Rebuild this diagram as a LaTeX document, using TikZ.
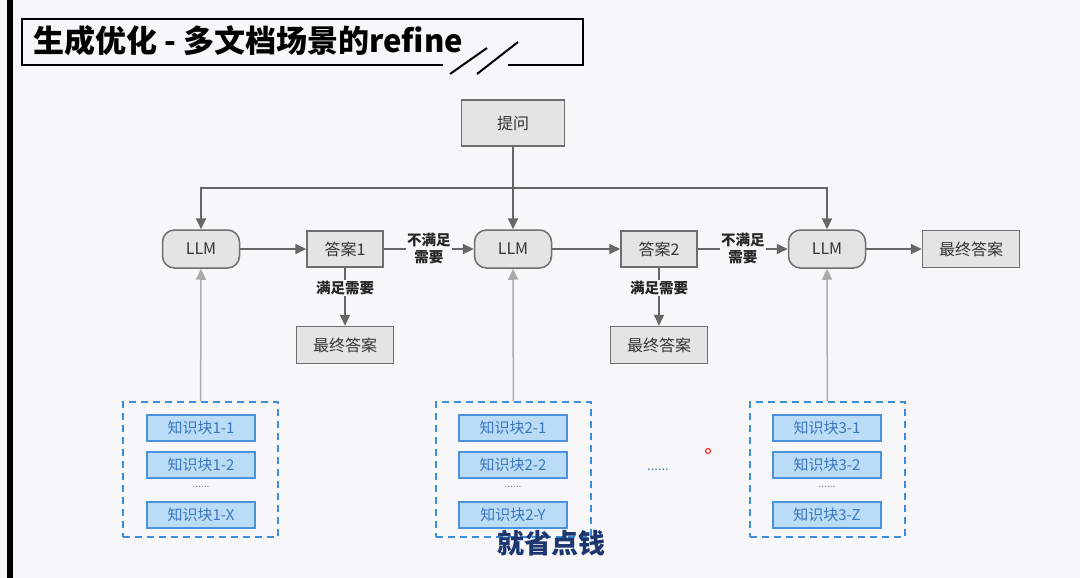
\documentclass[tikz,border=0pt]{standalone}
\usepackage{fontspec}
\setmainfont{Noto Sans CJK SC}
\usepackage{xcolor}
\usepackage{tikz}
\usetikzlibrary{calc, positioning, arrows.meta}

\definecolor{bg}{HTML}{F7F7F9}
\definecolor{boxfill}{HTML}{E4E4E4}
\definecolor{boxline}{HTML}{6E6E6E}
\definecolor{arrline}{HTML}{666666}
\definecolor{upline}{HTML}{ABABAB}
\definecolor{chunkfill}{HTML}{BBDCF6}
\definecolor{chunkline}{HTML}{4A92DC}
\definecolor{chunktext}{HTML}{3A76BC}
\definecolor{dashline}{HTML}{3C8FD8}
\definecolor{subtext}{HTML}{1D3670}

\tikzset{
    box/.style={draw=boxline, fill=boxfill, line width=1.5pt, inner sep=0pt,
        minimum width=76pt, minimum height=36pt, text=black!80,
        font=\fontsize{16}{18}\selectfont},
    llmbox/.style={box, rounded corners=12pt, minimum width=77pt, minimum height=38pt},
    finalbox/.style={box, minimum width=97pt, minimum height=37pt},
    chunk/.style={draw=chunkline, fill=chunkfill, line width=1.5pt, inner sep=0pt,
        minimum width=108pt, minimum height=26pt, text=chunktext,
        font=\fontsize{15}{16}\selectfont},
    group/.style={draw=dashline, dash pattern=on 7pt off 5pt, line width=2pt,
        minimum width=155pt, minimum height=135pt, inner sep=0pt},
    arr/.style={->, draw=arrline, line width=1.8pt},
    uparr/.style={->, draw=upline, line width=1.5pt},
    lbl/.style={fill=bg, inner sep=1pt, align=center, text=black!85,
        font=\fontsize{14.5}{17}\selectfont\bfseries},
}

\begin{document}
\begin{tikzpicture}[x=1pt, y=-1pt, >={Triangle[length=11pt, width=10pt]}]

    % =================================================================
    % 1. NỀN VÀ KHUNG TIÊU ĐỀ
    % =================================================================
    \useasboundingbox (0,0) rectangle (1080,578);
    \fill[bg] (0,0) rectangle (1080,578);
    \fill[black] (7,0) rectangle (13,578); % vạch đen bên trái

    \draw[line width=2pt] (443,65) -- (22,65) -- (22,19) -- (583,19) -- (583,65) -- (508,65);
    \draw[line width=2pt] (450,74) -- (487,48);
    \draw[line width=2pt] (477,74) -- (518,42);
    \node[anchor=west, font=\fontsize{31}{34}\selectfont\bfseries] (T) at (30,41)
        {生成优化 - 多文档场景的refine};

    % =================================================================
    % 2. TỌA ĐỘ CÁC KHỐI CHÍNH
    % =================================================================
    \coordinate (J) at (513,188); % điểm rẽ nhánh của 提问

    \node[box, minimum width=103pt, minimum height=46pt] (Q) at (513,123) {提问};

    \node[llmbox] (L1) at (201,249) {LLM};
    \node[box] (A1) at (345,249) {答案1};
    \node[llmbox] (L2) at (513,249) {LLM};
    \node[box] (A2) at (659,249) {答案2};
    \node[llmbox] (L3) at (827,249) {LLM};
    \node[finalbox] (F3) at (971,249) {最终答案};

    \node[finalbox] (F1) at (345,345) {最终答案};
    \node[finalbox] (F2) at (659,345) {最终答案};

    % =================================================================
    % 3. CÁC MŨI TÊN
    % =================================================================
    \draw[arr] (Q) -- (L2);
    \draw[arr] (J) -| (L1);
    \draw[arr] (J) -| (L3);

    \draw[arr] (L1) -- (A1);
    \draw[arr] (A1) -- node[lbl] {不满足\\需要} (L2);
    \draw[arr] (L2) -- (A2);
    \draw[arr] (A2) -- node[lbl] {不满足\\需要} (L3);
    \draw[arr] (L3) -- (F3);

    \draw[arr] (A1) -- node[lbl, pos=0.35] {满足需要} (F1);
    \draw[arr] (A2) -- node[lbl, pos=0.35] {满足需要} (F2);

    % =================================================================
    % 4. CÁC KHỐI TRI THỨC (NÉT ĐỨT XANH)
    % =================================================================
    \node[group] (G1) at (200.5,469.5) {};
    \node[group] (G2) at (513.5,469.5) {};
    \node[group] (G3) at (827.5,469.5) {};

    \node[chunk] (K11) at (201,428) {知识块1-1};
    \node[chunk] (K12) at (201,465) {知识块1-2};
    \node[chunk] (K1X) at (201,515) {知识块1-X};
    \node[chunk] (K21) at (513,428) {知识块2-1};
    \node[chunk] (K22) at (513,465) {知识块2-2};
    \node[chunk] (K2Y) at (513,515) {知识块2-Y};
    \node[chunk] (K31) at (827,428) {知识块3-1};
    \node[chunk] (K32) at (827,465) {知识块3-2};
    \node[chunk] (K3Z) at (827,515) {知识块3-Z};

    \node[text=gray, font=\fontsize{10}{10}\selectfont] (D1) at (201,487) {......};
    \node[text=gray, font=\fontsize{10}{10}\selectfont] (D2) at (513,487) {......};
    \node[text=gray, font=\fontsize{10}{10}\selectfont] (D3) at (827,487) {......};
    \node[text=chunktext!70!gray, font=\fontsize{13}{13}\selectfont] (DM) at (658,470) {......};

    \draw[uparr] (G1) -- (L1);
    \draw[uparr] (G2) -- (L2);
    \draw[uparr] (G3) -- (L3);

    % =================================================================
    % 5. PHỤ ĐỀ VÀ CON TRỎ
    % =================================================================
    \draw[red!75!pink, line width=1.2pt] (708,451) circle (2.5pt);
    \node[text=subtext, font=\fontsize{27}{30}\selectfont\bfseries] (S) at (551,543) {就省点钱};

\end{tikzpicture}
\end{document}
